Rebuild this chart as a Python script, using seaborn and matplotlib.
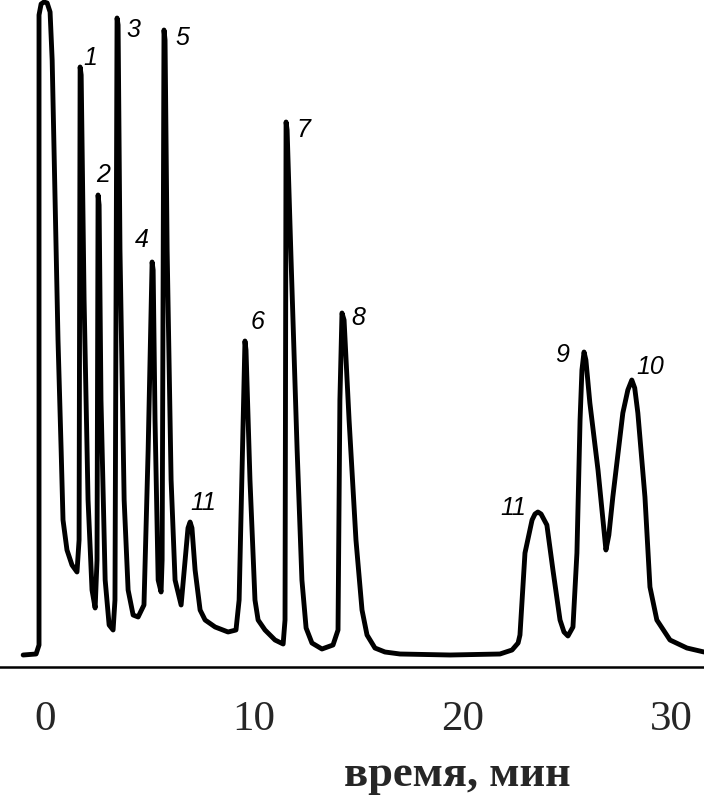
import pandas as pd
import seaborn as sns
import matplotlib.pyplot as plt

# Chromatogram trace: time (min) and detector signal (arb. units)
trace_time = [-1.05, -0.43, -0.29, -0.29, -0.19, -0.05, 0.10, 0.24, 0.34, 0.48, 0.62, 0.77, 0.86, 1.05, 1.29, 1.53,
              1.63, 1.68, 1.73, 1.87, 2.06, 2.25, 2.40,
              2.49, 2.54, 2.59, 2.68, 2.88, 3.07, 3.26,
              3.35, 3.45, 3.50, 3.59, 3.79, 3.98, 4.22, 4.46,
              4.74, 4.94, 5.13, 5.18, 5.27, 5.42, 5.56,
              5.61, 5.70, 5.75, 5.85, 6.04, 6.23, 6.52,
              6.71, 6.85, 6.95, 7.04, 7.19, 7.43, 7.67, 8.15, 8.77, 9.15,
              9.30, 9.58, 9.63, 9.82, 10.06, 10.21, 10.54, 11.02, 11.41,
              11.50, 11.55, 11.60, 11.79, 12.08, 12.31, 12.51, 12.79, 13.27, 13.80, 14.04,
              14.13, 14.23, 14.33, 14.57, 14.90, 15.19, 15.43, 15.81, 16.29, 17.01,
              19.41, 21.80, 22.38, 22.67, 22.76,
              23.00, 23.34, 23.48, 23.62, 23.77, 24.05, 24.34, 24.68, 24.87, 25.06, 25.30,
              25.49, 25.64, 25.73, 25.83, 25.92, 26.11, 26.50, 26.74, 26.88, 27.02,
              27.21, 27.69, 27.93, 28.12, 28.26, 28.41, 28.75, 28.99, 29.32, 29.95, 30.76, 31.58]
trace_signal = [0, 1, 10, 640, 651, 653, 652, 643, 595, 455, 315, 205, 135, 105, 90, 83,
                115, 588, 580, 355, 155, 65, 47,
                95, 460, 450, 255, 75, 30, 25,
                55, 637, 630, 405, 155, 65, 40, 38,
                50, 205, 393, 385, 235, 75, 63,
                95, 625, 615, 405, 175, 75, 50,
                95, 127, 133, 127, 85, 45, 35, 28, 23, 25,
                55, 314, 305, 175, 55, 35, 25, 15, 11,
                35, 533, 525, 395, 205, 75, 27, 12, 6, 10, 25,
                255, 342, 335, 235, 115, 45, 20, 7, 3, 1,
                0, 1, 5, 12, 20,
                102, 135, 141, 143, 141, 130, 85, 35, 23, 19, 28,
                102, 235, 285, 303, 295, 252, 185, 135, 105, 120,
                158, 242, 265, 275, 267, 242, 158, 68, 35, 15, 7, 3]

# Peak numbers and where they are written
label_text = ["1", "2", "3", "4", "5", "11", "6", "7", "8", "11", "9", "10"]
label_time = [2.16, 2.78, 4.22, 4.65, 6.56, 7.57, 10.16, 12.36, 15.00, 22.42, 24.77, 28.99]
label_signal = [597, 480, 625, 415, 617, 152, 333, 525, 337, 147, 300, 288]

df = pd.DataFrame({"time": trace_time, "signal": trace_signal})

sns.set_style("white")
plt.rcParams["font.family"] = ["Liberation Serif", "DejaVu Serif"]

fig = plt.figure(figsize=(7.04, 8.05), dpi=100)
ax = fig.add_axes([0, 138 / 805, 1, 667 / 805])

sns.lineplot(data=df, x="time", y="signal", sort=False, estimator=None,
             color="black", linewidth=3.5, ax=ax)
ax.lines[0].set_solid_joinstyle("round")

for txt, t, s in zip(label_text, label_time, label_signal):
    ax.text(t, s, txt, fontsize=18, style="italic", family="Liberation Sans",
            ha="center", va="center", color="black")

ax.set_xlim(-2.16, 31.58)
ax.set_ylim(-12, 655)
ax.set_xticks([0, 10, 20, 30])
ax.set_yticks([])
ax.tick_params(axis="x", direction="in", length=7, width=2, color="black",
               labelsize=31, pad=24)
for side in ["left", "right", "top"]:
    ax.spines[side].set_visible(False)
ax.spines["bottom"].set_linewidth(1.8)
ax.spines["bottom"].set_color("black")

ax.set_xlabel("время, мин", fontsize=32, fontweight="bold")
ax.set_ylabel("")
ax.xaxis.set_label_coords(0.649, -0.162)
ax.xaxis.label.set_va("center")

fig.savefig("out.png", dpi=100)
